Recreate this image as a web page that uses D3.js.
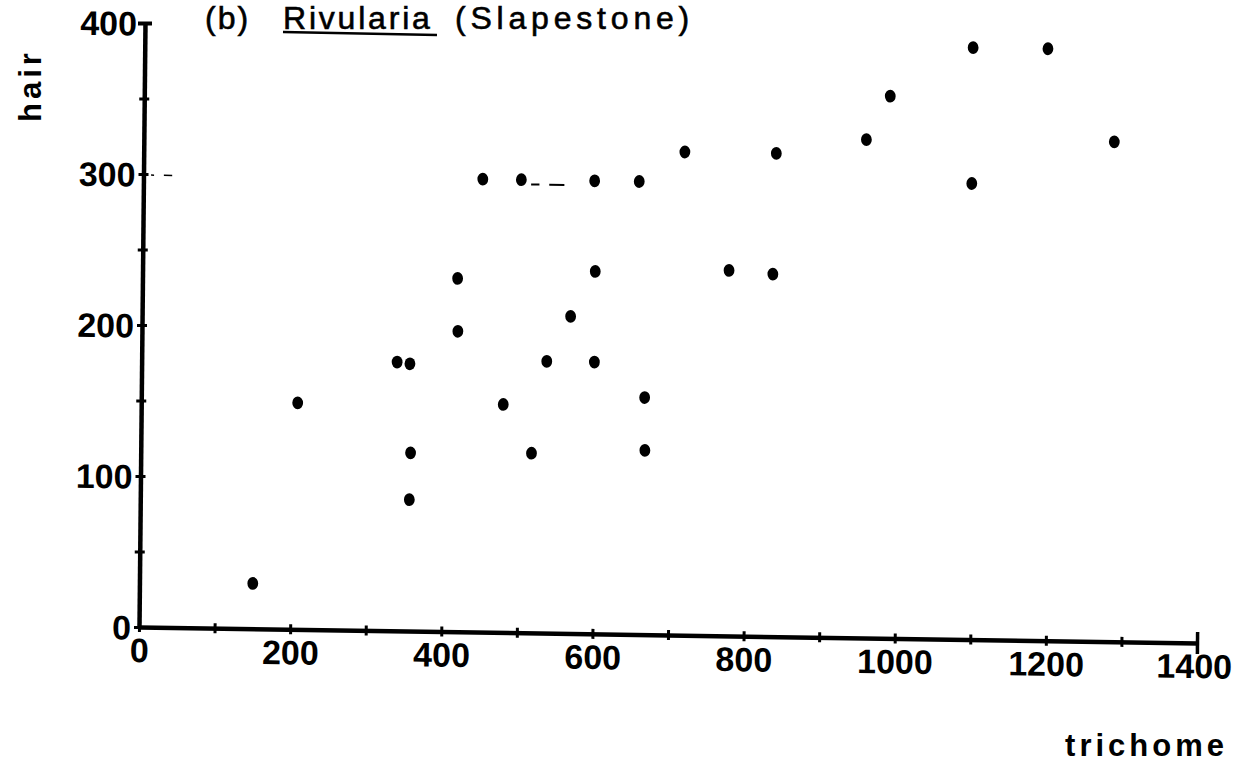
<!DOCTYPE html>
<html><head><meta charset="utf-8">
<script src="https://cdn.jsdelivr.net/npm/d3@7"></script>
<style>body{margin:0;background:#fff;} svg{display:block}</style>
</head><body>
<svg id="chart" width="1233" height="769"></svg>
<script>
// Data: trichome length vs hair length
const trichome = [150,207,338,355,357,356,417,418,449,479,500,517,536,567,599,597,599,656,666,667,716,776,834,837,956,987,1096,1096,1195,1284];
const hair     = [30,150,178,177,118,87,234,199,300,151,300,119,180,210,180,300,240,300,157,122,320,242,240,320,330,359,392,302,392,331];

const xTicks  = d3.range(0, 1401, 100);
const xLabels = [0,200,400,600,800,1000,1200,1400];
const yTicks  = d3.range(0, 401, 50);
const yLabels = [0,100,200,300,400];

// hand-drawn guide dashes at hair = 300 (start, end in trichome units)
const guideDashes = [[-4,0],[10,14],[27,38]];
const guideDashes2 = [[513,524],[537,557]];

const titleParts = ["(b)", "Rivularia", "(Slapestone)"];
const xTitle = "trichome";
const yTitle = "hair";

const svg = d3.select("#chart");
const W = 1058, H = 604;
const x = d3.scaleLinear().domain([0,1400]).range([0, W]);
const y = d3.scaleLinear().domain([0,400]).range([0, -H]);

// scanned page is slightly rotated/sheared
const g = svg.append("g").attr("transform", "matrix(1,0.015123,-0.009934,1,139,627)");

const digitFont = "'Liberation Sans', Arial, sans-serif";

// x axis
const xAxis = d3.axisBottom(x).tickValues(xTicks).tickSizeOuter(0)
  .tickFormat(d => xLabels.includes(d) ? d : "");
const gx = g.append("g").call(xAxis);
gx.select(".domain").attr("stroke","#000").attr("stroke-width",4.5);
gx.selectAll(".tick line").attr("y1", d => d===1400 ? -11 : -5).attr("y2", d => d===1400 ? 11 : 5)
  .attr("stroke","#000").attr("stroke-width", d => d===1400 ? 3.5 : 3);
gx.selectAll(".tick text").attr("y", 11).attr("dy","0.71em").attr("dx", d => d===1400 ? -3 : 0)
  .attr("font-family", digitFont).attr("font-weight","bold").attr("font-size", 34).attr("fill","#000");

// y axis
const yAxis = d3.axisLeft(y).tickValues(yTicks).tickSizeOuter(0)
  .tickFormat(d => yLabels.includes(d) ? d : "");
const gy = g.append("g").call(yAxis);
gy.select(".domain").attr("stroke","#000").attr("stroke-width",4.5);
gy.selectAll(".tick line").attr("x1", d => d===400 ? -7 : -5).attr("x2", d => d===400 ? 7 : 5)
  .attr("stroke","#000").attr("stroke-width", d => d===400 ? 4 : 3);
gy.selectAll(".tick text").attr("x", -8).attr("dy","0.36em")
  .attr("font-family", digitFont).attr("font-weight","bold").attr("font-size", 34).attr("fill","#000");

// guide dashes
g.selectAll("line.guide").data(guideDashes).join("line").attr("class","guide")
  .attr("x1", d => x(d[0])).attr("x2", d => x(d[1])).attr("y1", y(300)+1).attr("y2", y(300)+1)
  .attr("stroke","#000").attr("stroke-width",1.5);
g.selectAll("line.guide2").data(guideDashes2).join("line").attr("class","guide2")
  .attr("x1", d => x(d[0])).attr("x2", d => x(d[1])).attr("y1", y(297)).attr("y2", y(297))
  .attr("stroke","#000").attr("stroke-width",2);

// points
g.selectAll("ellipse.pt").data(trichome.map((t,i)=>[t,hair[i]])).join("ellipse").attr("class","pt")
  .attr("cx", d => x(d[0])).attr("cy", d => y(d[1])).attr("rx",5.4).attr("ry",6.4).attr("fill","#000");

// title
const tt = svg.append("text").attr("x", 205).attr("y", 29)
  .attr("font-family","'Liberation Sans', Arial, sans-serif").attr("font-size", 32).attr("fill","#000")
  .attr("stroke","#000").attr("stroke-width",0.6);
tt.append("tspan").attr("letter-spacing", 2).text(titleParts[0]);
tt.append("tspan").attr("x", 283).attr("letter-spacing", 2.8).text(titleParts[1]);
tt.append("tspan").attr("x", 455).attr("letter-spacing", 4.8).text(titleParts[2]);
svg.append("line").attr("x1",283).attr("y1",32).attr("x2",437).attr("y2",35).attr("stroke","#000").attr("stroke-width",2.5);

// axis titles
svg.append("text").attr("x", 1228).attr("y", 756).attr("text-anchor","end")
  .attr("font-family", digitFont).attr("font-weight","bold").attr("font-size", 31).attr("letter-spacing", 4)
  .attr("fill","#000").text(xTitle);
svg.append("text").attr("transform","translate(41,122) rotate(-90)")
  .attr("font-family", digitFont).attr("font-weight","bold").attr("font-size", 31).attr("letter-spacing", 4)
  .attr("fill","#000").text(yTitle);
</script>
</body></html>
